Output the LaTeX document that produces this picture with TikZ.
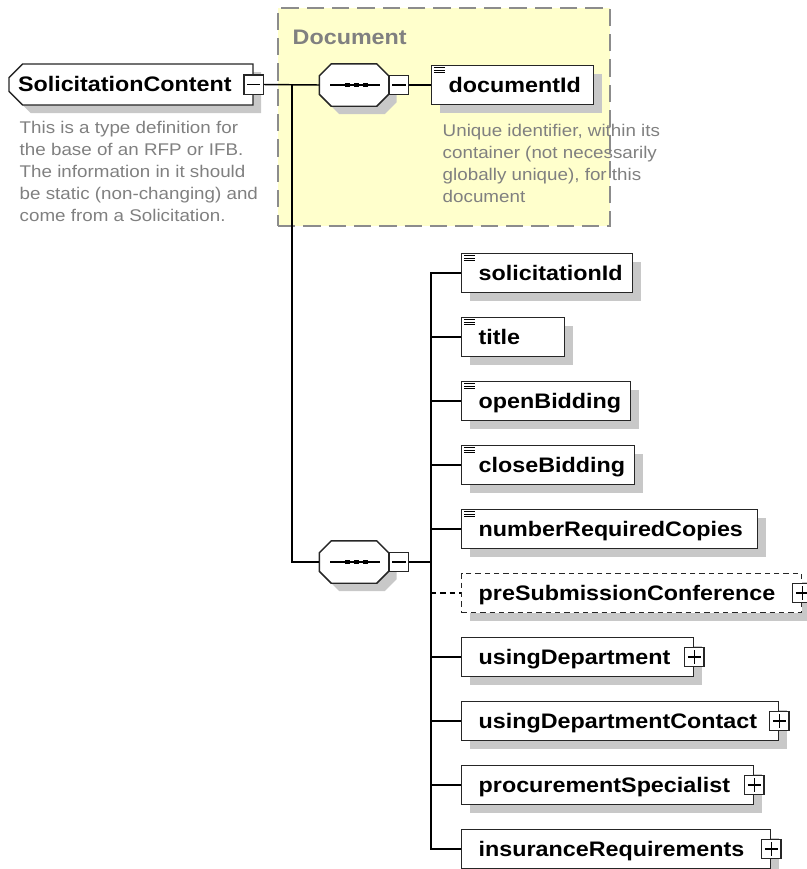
\documentclass[tikz,border=0pt]{standalone}
\usepackage{fontspec}
\setmainfont{Liberation Sans}[FakeStretch=1.11]
\usetikzlibrary{shapes.misc,shadows,calc}

\definecolor{docyellow}{RGB}{255,255,204}
\definecolor{descgray}{RGB}{128,128,128}
\definecolor{shadowgray}{RGB}{200,200,200}
\definecolor{framegray}{RGB}{140,140,140}

% small glyphs inside the boxes
\newcommand{\minussign}[1]{\draw[line width=0.9pt] ([xshift=-5pt]#1.center) -- ([xshift=5pt]#1.center);}
\newcommand{\plussign}[1]{\minussign{#1}\draw[line width=0.9pt] ([yshift=-5pt]#1.center) -- ([yshift=5pt]#1.center);}
\newcommand{\typeicon}[1]{\foreach \dy in {3,5.5,8} \draw[line width=0.9pt] ([shift={(3,\dy)}]#1.north west) -- ++(11,0);}
% octagon of a sequence compositor, drawn round its node
\newcommand{\seqshape}[1]{\filldraw[draw=black!85,fill=white,drop shadow={shadow xshift=6pt,shadow yshift=-6pt,fill=shadowgray,opacity=1}]
  ([xshift=9pt]#1.north west) -- ([xshift=-9pt]#1.north east) -- ([yshift=-9pt]#1.north east) -- ([yshift=9pt]#1.south east)
  -- ([xshift=-9pt]#1.south east) -- ([xshift=9pt]#1.south west) -- ([yshift=9pt]#1.south west) -- ([yshift=-9pt]#1.north west) -- cycle;
  \draw[line width=0.9pt] ([xshift=-18pt]#1.center) -- ([xshift=19.5pt]#1.center);
  \foreach \dx in {-7,2,11} \fill ([shift={(\dx-2.5,-2)}]#1.center) rectangle ++(5,4);}

\begin{document}
\begin{tikzpicture}[x=0.75pt,y=-0.75pt,line width=1.1pt,font=\fontsize{15.75}{18}\selectfont\bfseries]
\useasboundingbox (0,0) rectangle (807,869);
\tikzstyle{sh}=[drop shadow={shadow xshift=6pt,shadow yshift=-6pt,fill=shadowgray,opacity=1}]
\tikzstyle{elem}=[draw=black!85,fill=white,sh,anchor=west,minimum height=29.25pt,inner xsep=12.75pt,inner ysep=0pt,align=left,text height=13.5pt,text depth=2.3pt]
\tikzstyle{optelem}=[elem,dash pattern=on 4pt off 3pt]
\tikzstyle{pm}=[draw=black!85,fill=white,minimum size=14.5pt,inner sep=0pt,line width=1pt]
\tikzstyle{seq}=[minimum width=51pt,minimum height=30.75pt,inner sep=0pt]
\tikzstyle{root}=[chamfered rectangle,chamfered rectangle corners={north west,south west},chamfered rectangle xsep=6.75pt,draw=black!85,fill=white,sh,minimum width=183pt,minimum height=30.75pt,inner xsep=0pt,inner ysep=0pt,text width=169.5pt,align=left,text height=13.5pt,text depth=2.3pt]
\tikzstyle{desc}=[font=\fontsize{12.7}{16.5}\selectfont\mdseries,text=descgray,align=left,anchor=north west,inner sep=0pt]

% Document group
\node[draw=framegray,dash pattern=on 13pt off 6pt,fill=docyellow,minimum width=249pt,minimum height=163.5pt,inner sep=0pt] (doc) at (444,117) {};
\node[text=descgray,anchor=base west,inner sep=0pt] (doclbl) at (292,44) {Document};

% root element
\node[root] (sc) at (131,84.5) {SolicitationContent};
\node[pm] (scm) at (sc.east) {}; \minussign{scm}
\node[desc] (scdesc) at (19,120) {This is a type definition for\\the base of an RFP or IFB.\\The information in it should\\be static (non-changing) and\\come from a Solicitation.};

% first sequence
\node[seq] (seq1) at (354,85) {}; \seqshape{seq1}
\node[pm,anchor=west] (seq1m) at (seq1.east) {}; \minussign{seq1m}
\node[elem,text width=96pt] (did) at (431,85) {documentId}; \typeicon{did}
\node[desc] (diddesc) at (442,123) {Unique identifier, within its\\container (not necessarily\\globally unique), for this\\document};

% second sequence
\node[seq] (seq2) at (354,562) {}; \seqshape{seq2}
\node[pm,anchor=west] (seq2m) at (seq2.east) {}; \minussign{seq2m}
\coordinate (br) at (292,85);
\coordinate (bus) at (431,562);

\node[elem,text width=102.75pt] (e1) at (461,273) {solicitationId}; \typeicon{e1}
\node[elem,text width=51.75pt] (e2) at (461,337) {title}; \typeicon{e2}
\node[elem,text width=101.25pt] (e3) at (461,401) {openBidding}; \typeicon{e3}
\node[elem,text width=104.25pt] (e4) at (461,465) {closeBidding}; \typeicon{e4}
\node[elem,text width=196.5pt] (e5) at (461,529) {numberRequiredCopies}; \typeicon{e5}
\node[optelem,text width=229.5pt] (e6) at (461,593) {preSubmissionConference};
\node[pm] (e6p) at (e6.east) {}; \plussign{e6p}
\node[elem,text width=148.5pt] (e7) at (461,657) {usingDepartment};
\node[pm] (e7p) at (e7.east) {}; \plussign{e7p}
\node[elem,text width=212.25pt] (e8) at (461,721) {usingDepartmentContact};
\node[pm] (e8p) at (e8.east) {}; \plussign{e8p}
\node[elem,text width=193.5pt] (e9) at (461,785) {procurementSpecialist};
\node[pm] (e9p) at (e9.east) {}; \plussign{e9p}
\node[elem,text width=206.25pt] (e10) at (461,849) {insuranceRequirements};
\node[pm] (e10p) at (e10.east) {}; \plussign{e10p}

% connectors
\draw (scm.east) -- (seq1.west); \draw (br) |- (seq2.west);
\draw (seq1m.east) -- (did.west); \draw (seq2m.east) -- (bus);
\draw (bus) |- (e1.west); \draw (bus) |- (e2.west); \draw (bus) |- (e3.west);
\draw (bus) |- (e4.west); \draw (bus) |- (e5.west);
\draw (bus) -- (bus |- e6.west); \draw[dash pattern=on 4pt off 3pt] (bus |- e6.west) -- (e6.west);
\draw (bus) |- (e7.west); \draw (bus) |- (e8.west); \draw (bus) |- (e9.west); \draw (bus) |- (e10.west);
\end{tikzpicture}
\end{document}
